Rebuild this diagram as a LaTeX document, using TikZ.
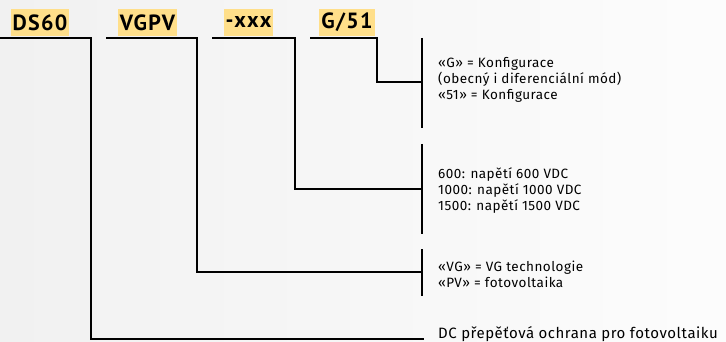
\documentclass[tikz,border=0pt]{standalone}
\usepackage{fontspec}
\setmainfont[LetterSpace=3.5]{Fira Sans}
\newfontfamily\codefont[LetterSpace=6]{PT Sans Bold}
\definecolor{codebg}{HTML}{FFDF8A}

\tikzset{
  code/.style={fill=codebg, font=\codefont\fontsize{22}{22}\selectfont,
    inner xsep=2pt, inner ysep=0pt, minimum height=27pt},
  conn/.style={line width=1.8pt},
  bar/.style={line width=1.8pt},
  desc/.style={anchor=west, inner sep=0pt, align=left,
    font=\fontsize{13.5}{16}\selectfont},
}

\begin{document}
\begin{tikzpicture}[x=1pt,y=-1pt]
    \useasboundingbox (0,0) rectangle (726,342);
    \shade[left color=gray!11, right color=gray!2] (0,0) rectangle (726,342);
    %% code labels
    \node[code] (ds)   at (40,22.5)    {DS60};
    \node[code] (vgpv) at (147.5,22.5) {VGPV};
    \node[code] (xxx)  at (248.5,22.5) {-xxx};
    \node[code] (g51)  at (347,22.5)   {G/51};
    %% descriptions
    \node[desc] (gText)   at (438,80)  {«G» = Konfigurace\\(obecný i diferenciální mód)\\«51» = Konfigurace};
    \node[desc] (xxxText) at (438,191) {600: napětí 600 VDC\\1000: napětí 1000 VDC\\1500: napětí 1500 VDC};
    \node[desc] (vgText)  at (438,274) {«VG» = VG technologie\\«PV» = fotovoltaika};
    \node[desc, anchor=base west, font=\fontsize{15}{16}\selectfont] (dsText) at (438,338.5) {DC přepěťová ochrana pro fotovoltaiku};
    %% bars
    \coordinate (gTop) at (422,38);    \coordinate (gBot) at (422,128);
    \coordinate (xxxTop) at (422,144); \coordinate (xxxBot) at (422,234);
    \coordinate (vgTop) at (422,249);  \coordinate (vgBot) at (422,296);
    \draw[bar] (gTop) -- (gBot);
    \draw[bar] (xxxTop) -- (xxxBot);
    \draw[bar] (vgTop) -- (vgBot);
    %% connector ends
    \coordinate (gEnd) at (422,82);
    \coordinate (xxxEnd) at (422,189);
    \coordinate (vgEnd) at (422,272);
    \coordinate (dsEnd) at (424,339);
    %% connectors
    \coordinate (dsL) at (0,38);     \coordinate (dsR) at (91,38);
    \coordinate (vgpvL) at (106,38); \coordinate (vgpvR) at (197,38);
    \coordinate (xxxL) at (212,38);  \coordinate (xxxR) at (295,38);
    \coordinate (g51L) at (310,38);  \coordinate (g51R) at (377,38);
    \draw[conn] (dsL) -- (dsR) |- (dsEnd);
    \draw[conn] (vgpvL) -- (vgpvR) |- (vgEnd);
    \draw[conn] (xxxL) -- (xxxR) |- (xxxEnd);
    \draw[conn] (g51L) -- (g51R) |- (gEnd);
\end{tikzpicture}
\end{document}
